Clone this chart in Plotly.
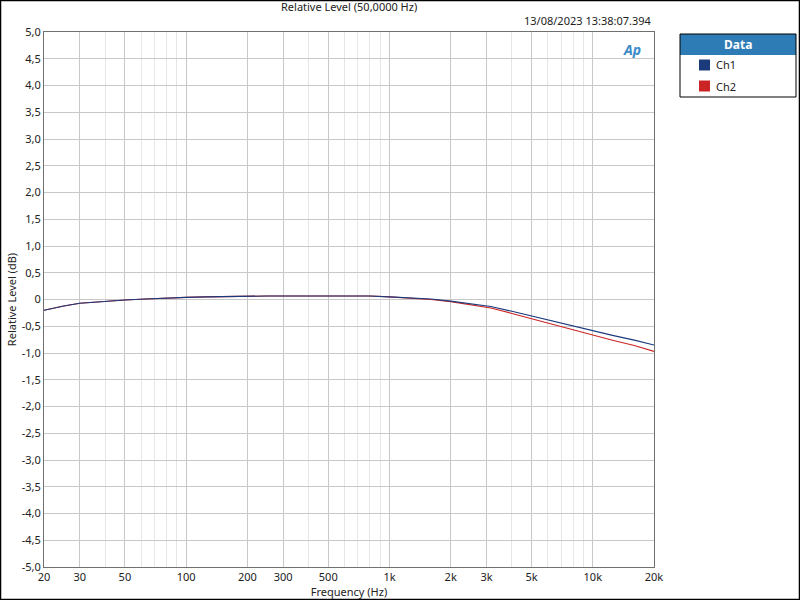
import plotly.graph_objects as go

# frequency points (Hz) and relative level (dB) per channel
freq = [20, 25, 30, 40, 50, 63, 80, 100, 125, 160, 200, 250, 315, 400, 500, 630, 800,
        1000, 1250, 1600, 2000, 2500, 3150, 4000, 5000, 6300, 8000, 10000, 12500, 16000, 20000]
ch1 = [-0.20, -0.12, -0.07, -0.03, -0.01, 0.01, 0.03, 0.04, 0.05, 0.06, 0.06, 0.065, 0.065, 0.065, 0.065, 0.065, 0.065,
       0.05, 0.03, 0.01, -0.03, -0.08, -0.13, -0.22, -0.31, -0.40, -0.50, -0.59, -0.67, -0.76, -0.85]
ch2 = [-0.20, -0.12, -0.07, -0.03, -0.01, 0.01, 0.03, 0.04, 0.05, 0.06, 0.06, 0.065, 0.065, 0.065, 0.065, 0.065, 0.065,
       0.05, 0.03, 0.00, -0.04, -0.10, -0.16, -0.26, -0.36, -0.46, -0.57, -0.67, -0.76, -0.86, -0.97]

x_ticks = [20, 30, 50, 100, 200, 300, 500, 1000, 2000, 3000, 5000, 10000, 20000]
x_labels = ['20', '30', '50', '100', '200', '300', '500', '1k', '2k', '3k', '5k', '10k', '20k']
x_minor = [40, 60, 70, 80, 90, 400, 600, 700, 800, 900, 4000, 6000, 7000, 8000, 9000]
y_ticks = [5.0, 4.5, 4.0, 3.5, 3.0, 2.5, 2.0, 1.5, 1.0, 0.5, 0, -0.5, -1.0, -1.5, -2.0,
           -2.5, -3.0, -3.5, -4.0, -4.5, -5.0]
y_labels = ['0' if v == 0 else ('%.1f' % v).replace('.', ',') for v in y_ticks]

c1 = '#1b3a7c'
c2 = '#cc2424'
font = 'Noto Sans'

fig = go.Figure()
fig.add_trace(go.Scatter(x=freq, y=ch2, name='Ch2', mode='lines', line=dict(color=c2, width=1.1)))
fig.add_trace(go.Scatter(x=freq, y=ch1, name='Ch1', mode='lines', line=dict(color=c1, width=1.1)))

fig.update_layout(
    width=800, height=600, showlegend=False,
    margin=dict(l=44, r=146, t=32, b=33),
    paper_bgcolor='white', plot_bgcolor='white',
    font=dict(family=font, size=11, color='#222222'),
)
fig.update_xaxes(type='log', range=[1.30103, 4.30103], tickvals=x_ticks, ticktext=x_labels,
                 showgrid=True, gridcolor='#c8c8c8', gridwidth=1, automargin=False,
                 minor=dict(tickvals=x_minor, showgrid=True, gridcolor='#e6e6e6', gridwidth=1),
                 showline=True, linecolor='#707070', mirror=True, ticks='', zeroline=False,
                 tickfont=dict(size=11, color='#222222'),
                 title=dict(text='Frequency (Hz)', font=dict(size=11), standoff=0))
fig.update_yaxes(range=[-5, 5], tickvals=y_ticks, ticktext=y_labels, automargin=False,
                 showgrid=True, gridcolor='#c8c8c8', gridwidth=1, zeroline=False,
                 showline=True, linecolor='#707070', mirror=True, ticks='',
                 tickfont=dict(size=11, color='#222222'),
                 title=dict(text='Relative Level (dB)', font=dict(size=11), standoff=2))

# outer frame
fig.add_shape(type='rect', xref='paper', yref='paper', x0=-0.0713, x1=1.2385, y0=-0.0607, y1=1.0589,
              line=dict(color='black', width=1.5))

# legend box
lx0, lx1 = (680 - 44) / 610, (796 - 44) / 610
ly_top, ly_head, ly_bot = (567 - 34) / 535, (567 - 55) / 535, (567 - 97) / 535
fig.add_shape(type='rect', xref='paper', yref='paper', x0=lx0, x1=lx1, y0=ly_head, y1=ly_top,
              fillcolor='#2e7cb6', line=dict(width=0))
fig.add_shape(type='rect', xref='paper', yref='paper', x0=lx0, x1=lx1, y0=ly_bot, y1=ly_top,
              line=dict(color='black', width=1))
for i, (name, col) in enumerate([('Ch1', c1), ('Ch2', c2)]):
    yc = 567 - (65 + 21 * i)
    fig.add_shape(type='rect', xref='paper', yref='paper',
                  x0=(699 - 44) / 610, x1=(710 - 44) / 610,
                  y0=(yc - 5.5) / 535, y1=(yc + 5.5) / 535,
                  fillcolor=col, line=dict(width=0))
    fig.add_annotation(text=name, xref='paper', yref='paper', x=(714 - 44) / 610, y=yc / 535,
                       xanchor='left', yanchor='middle', showarrow=False, font=dict(size=11, color='#222222'))
fig.add_annotation(text='<b>Data</b>', xref='paper', yref='paper', x=(lx0 + lx1) / 2, y=(567 - 44.5) / 535,
                   xanchor='center', yanchor='middle', showarrow=False, font=dict(size=12, color='white'))

# title, timestamp, logo
fig.add_annotation(text='Relative Level (50,0000 Hz)', xref='paper', yref='paper', x=(349 - 44) / 610,
                   y=(567 - 6) / 535, xanchor='center', yanchor='middle', showarrow=False,
                   font=dict(size=11, color='#222222'))
fig.add_annotation(text='13/08/2023 13:38:07.394', xref='paper', yref='paper', x=1.0, y=(567 - 21) / 535,
                   xanchor='right', yanchor='middle', showarrow=False, font=dict(size=11, color='#222222'))
fig.add_annotation(text='<b><i>Ap</i></b>', xref='paper', yref='paper', x=(632 - 44) / 610, y=(567 - 49) / 535,
                   xanchor='center', yanchor='middle', showarrow=False, font=dict(size=14, color='#3a8ac8'))

fig.write_html('out.html', config={'displayModeBar': False},
               post_script="document.body.style.margin='0';")
